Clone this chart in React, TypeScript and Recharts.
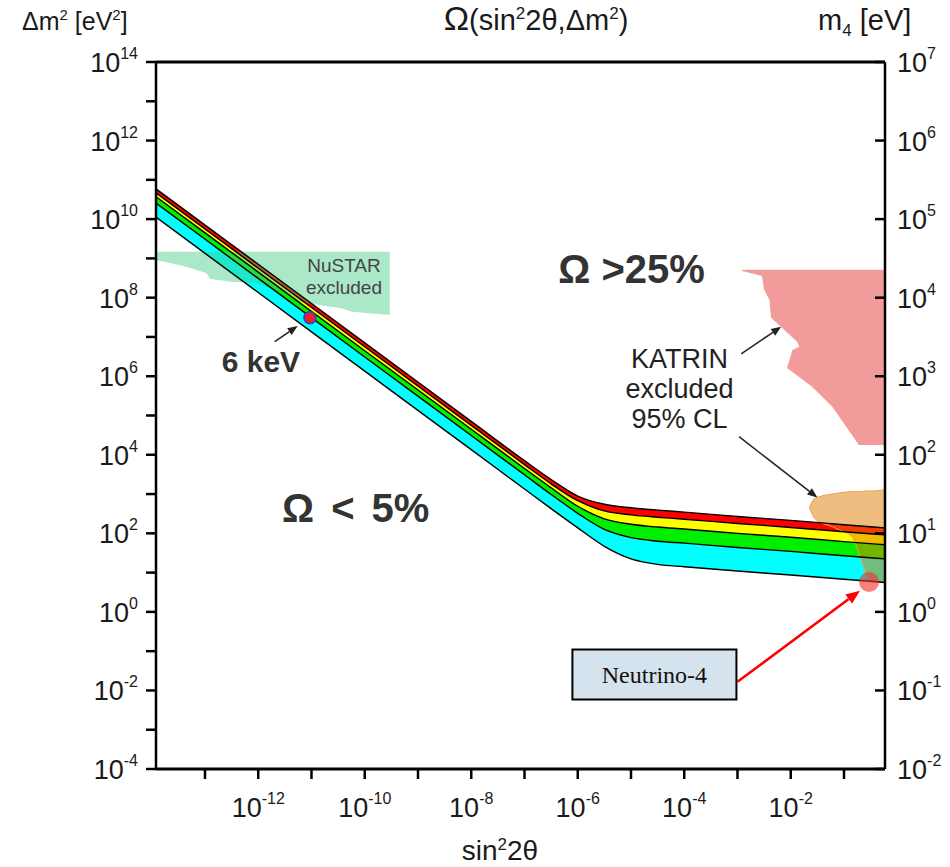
import React from "react";
import {
  ComposedChart,
  Area,
  Line,
  XAxis,
  YAxis,
  ReferenceLine,
  ReferenceDot,
  ReferenceArea,
} from "recharts";

const FONT = "'Liberation Sans', Arial, Helvetica, sans-serif";

// all values are log10 exponents
const LOG_X = [-13.92, -12, -10, -8, -7, -6.5, -6, -5.5, -5, -4.5, -4, -3, -2, -1, -0.23];
const RED_TOP = [10.77, 8.85, 6.85, 4.85, 3.85, 3.37, 2.95, 2.74, 2.65, 2.59, 2.54, 2.43, 2.33, 2.22, 2.14];
const RED_YELLOW = [10.67, 8.75, 6.75, 4.75, 3.75, 3.26, 2.83, 2.57, 2.47, 2.41, 2.36, 2.25, 2.15, 2.04, 1.96];
const YELLOW_GREEN = [10.57, 8.65, 6.65, 4.65, 3.65, 3.16, 2.69, 2.37, 2.23, 2.16, 2.11, 2.0, 1.9, 1.79, 1.71];
const GREEN_CYAN = [10.41, 8.49, 6.49, 4.49, 3.49, 2.99, 2.51, 2.1, 1.89, 1.8, 1.75, 1.64, 1.54, 1.43, 1.35];
const CYAN_BOTTOM = [10.05, 8.13, 6.13, 4.13, 3.13, 2.63, 2.14, 1.67, 1.35, 1.21, 1.15, 1.04, 0.94, 0.83, 0.75];

const NUSTAR_X = [-13.92, -13.42, -12.97, -12.91, -12.48, -12.1, -11.47, -11.22, -10.98, -10.47, -10.23, -9.53];
const NUSTAR_LOW = [8.96, 8.81, 8.63, 8.48, 8.4, 8.38, 8.12, 7.89, 7.84, 7.74, 7.64, 7.56];
const NUSTAR_TOP = 9.17;

const KATRIN_X = [-2.91, -2.54, -2.5, -2.4, -2.37, -2.16, -1.88, -1.84, -1.97, -2.07, -1.6, -1.22, -0.72, -0.23];
const KATRIN_LOW = [8.68, 8.55, 8.2, 7.94, 7.49, 7.23, 6.88, 6.75, 6.67, 6.21, 5.73, 5.22, 4.25, 4.25];
const KATRIN_TOP = 8.71;

const BLOB_X = [-1.65, -1.56, -1.47, -1.22, -1.09, -0.85, -0.68, -0.58, -0.47, -0.23];
const BLOB_TOP = [2.65, 2.88, 2.93, 3.0, 3.03, 3.06, 3.06, 3.08, 3.08, 3.11];
const BLOB_LOW = [2.65, 2.4, 2.3, 2.17, 2.09, 1.91, 1.33, 0.95, 0.77, 0.74];

const X_TICKS = [-13, -12, -11, -10, -9, -8, -7, -6, -5, -4, -3, -2, -1];
const Y_TICKS = [-4, -3, -2, -1, 0, 1, 2, 3, 4, 5, 6, 7, 8, 9, 10, 11, 12, 13, 14];
const M4_TICKS = [-2, -1, 0, 1, 2, 3, 4, 5, 6, 7];

const KEV6 = { x: -11.03, y: 7.49 };
const NEUTRINO4 = { x: -0.53, y: 0.76 };

const bandRows = LOG_X.map((x, i) => ({
  x,
  redTop: RED_TOP[i],
  redYellow: RED_YELLOW[i],
  yellowGreen: YELLOW_GREEN[i],
  greenCyan: GREEN_CYAN[i],
  cyanBottom: CYAN_BOTTOM[i],
}));
const nustarRows = NUSTAR_X.map((x, i) => ({ x, lo: NUSTAR_LOW[i], hi: NUSTAR_TOP }));
const katrinRows = KATRIN_X.map((x, i) => ({ x, lo: KATRIN_LOW[i], hi: KATRIN_TOP }));
const blobRows = BLOB_X.map((x, i) => ({ x, lo: BLOB_LOW[i], hi: BLOB_TOP[i] }));

function LeftTick(props: any) {
  const { x, y, payload } = props;
  const v = payload.value as number;
  return (
    <g>
      <line x1={x - 10} y1={y} x2={x} y2={y} stroke="#000" strokeWidth={2.5} />
      {v % 2 === 0 && (
        <text x={x - 18} y={y + 10} textAnchor="end" fontSize={27} fill="#1a1a1a" fontFamily={FONT}>
          10
          <tspan dy={-13} fontSize={16}>{v}</tspan>
        </text>
      )}
    </g>
  );
}

function RightTick(props: any) {
  const { x, y, payload } = props;
  return (
    <g>
      <line x1={x - 10} y1={y} x2={x} y2={y} stroke="#000" strokeWidth={2.5} />
      <text x={x + 12} y={y + 10} fontSize={27} fill="#1a1a1a" fontFamily={FONT}>
        10
        <tspan dy={-13} fontSize={16}>{payload.value}</tspan>
      </text>
    </g>
  );
}

function BottomTick(props: any) {
  const { x, y, payload } = props;
  const v = payload.value as number;
  return (
    <g>
      <line x1={x} y1={y} x2={x} y2={y + 10} stroke="#000" strokeWidth={2.5} />
      {v % 2 === 0 && (
        <text x={x} y={y + 48} textAnchor="middle" fontSize={27} fill="#1a1a1a" fontFamily={FONT}>
          10
          <tspan dy={-13} fontSize={16}>{v}</tspan>
        </text>
      )}
    </g>
  );
}

const arrow = (color: string, width: number, head: number) => (p: any) => {
  const { x1, y1, x2, y2 } = p;
  const a = Math.atan2(y2 - y1, x2 - x1);
  const bx = x2 - head * Math.cos(a);
  const by = y2 - head * Math.sin(a);
  const w = head * 0.4;
  const pts = `${x2},${y2} ${bx - w * Math.sin(a)},${by + w * Math.cos(a)} ${bx + w * Math.sin(a)},${by - w * Math.cos(a)}`;
  return (
    <g>
      <line x1={x1} y1={y1} x2={bx} y2={by} stroke={color} strokeWidth={width} />
      <polygon points={pts} fill={color} />
    </g>
  );
};

const textAt = (lines: string[], size: number, bold: boolean, color: string, gap: number, wordSpacing = 0) => (p: any) => (
  <text
    x={p.cx}
    y={p.cy}
    textAnchor="middle"
    fontSize={size}
    fontWeight={bold ? 700 : 400}
    fill={color}
    fontFamily={FONT}
    style={{ wordSpacing }}
  >
    {lines.map((l, i) => (
      <tspan key={i} x={p.cx} dy={i === 0 ? 0 : gap}>
        {l}
      </tspan>
    ))}
  </text>
);

export default function App() {
  return (
    <div style={{ position: "absolute", left: 0, top: 0, width: 950, height: 867, background: "#fff" }}>
      <ComposedChart width={950} height={867} margin={{ top: 62, right: 5, bottom: 38, left: 76 }}>
        <XAxis
          type="number"
          dataKey="x"
          domain={[-13.92, -0.23]}
          allowDataOverflow
          ticks={X_TICKS}
          interval={0}
          height={60}
          tickSize={0}
          tickMargin={0}
          tick={<BottomTick />}
          axisLine={{ stroke: "#000", strokeWidth: 3 }}
        />
        <YAxis
          type="number"
          domain={[-4, 14]}
          allowDataOverflow
          ticks={Y_TICKS}
          interval={0}
          width={80}
          tickSize={0}
          tickMargin={0}
          tick={<LeftTick />}
          axisLine={{ stroke: "#000", strokeWidth: 2.5 }}
        />
        <YAxis
          yAxisId="m4"
          orientation="right"
          type="number"
          domain={[-2, 7]}
          allowDataOverflow
          ticks={M4_TICKS}
          interval={0}
          width={60}
          tickSize={0}
          tickMargin={0}
          tick={<RightTick />}
          axisLine={{ stroke: "#000", strokeWidth: 2.5 }}
        />
        <ReferenceLine y={14} stroke="#000" strokeWidth={3} />

        <Area data={bandRows} type="monotone" dataKey={(d: any) => [d.cyanBottom, d.greenCyan]} fill="#00ffff" fillOpacity={1} stroke="none" isAnimationActive={false} />
        <Area data={bandRows} type="monotone" dataKey={(d: any) => [d.greenCyan, d.yellowGreen]} fill="#00ee00" fillOpacity={1} stroke="none" isAnimationActive={false} />
        <Area data={bandRows} type="monotone" dataKey={(d: any) => [d.yellowGreen, d.redYellow]} fill="#ffff00" fillOpacity={1} stroke="none" isAnimationActive={false} />
        <Area data={bandRows} type="monotone" dataKey={(d: any) => [d.redYellow, d.redTop]} fill="#ff0000" fillOpacity={1} stroke="none" isAnimationActive={false} />
        {["redTop", "redYellow", "yellowGreen", "greenCyan", "cyanBottom"].map((k) => (
          <Line key={k} data={bandRows} type="monotone" dataKey={k} stroke="#000" strokeWidth={1.4} dot={false} isAnimationActive={false} />
        ))}

        <Area data={nustarRows} type="linear" dataKey={(d: any) => [d.lo, d.hi]} fill="#43cc85" fillOpacity={0.45} stroke="none" isAnimationActive={false} />
        <Area data={katrinRows} type="linear" dataKey={(d: any) => [d.lo, d.hi]} fill="#e84848" fillOpacity={0.55} stroke="none" isAnimationActive={false} />
        <Area data={blobRows} type="monotone" dataKey={(d: any) => [d.lo, d.hi]} fill="#e07b00" fillOpacity={0.5} stroke="#f0a050" strokeWidth={1} isAnimationActive={false} />

        <ReferenceDot x={KEV6.x} y={KEV6.y} r={6} fill="#e8202a" stroke="#2040e0" strokeWidth={1.5} />
        <ReferenceDot x={NEUTRINO4.x} y={NEUTRINO4.y} r={10} fill="#f62b2b" fillOpacity={0.6} stroke="none" />

        <ReferenceArea
          x1={-6.1}
          x2={-3.02}
          y1={-2.23}
          y2={-0.96}
          fill="#d5e3ee"
          fillOpacity={1}
          stroke="#000"
          strokeWidth={2}
          label={{ value: "Neutrino-4", position: "center", fontSize: 24, fill: "#111", fontFamily: "'Liberation Serif', 'Times New Roman', serif" }}
        />

        <ReferenceLine segment={[{ x: -11.69, y: 6.88 }, { x: -11.26, y: 7.28 }]} shape={arrow("#222", 1.5, 10)} />
        <ReferenceLine segment={[{ x: -2.93, y: 6.57 }, { x: -2.18, y: 7.26 }]} shape={arrow("#222", 1.5, 10)} />
        <ReferenceLine segment={[{ x: -2.97, y: 4.46 }, { x: -1.5, y: 2.91 }]} shape={arrow("#222", 1.5, 10)} />
        <ReferenceLine segment={[{ x: -3.0, y: -1.78 }, { x: -0.7, y: 0.54 }]} shape={arrow("#ff0000", 2.5, 14)} />

        <ReferenceDot x={-10.39} y={8.66} r={0} shape={textAt(["NuSTAR", "excluded"], 19, false, "#444", 22)} />
        <ReferenceDot x={-11.95} y={6.11} r={0} shape={textAt(["6 keV"], 30, true, "#333", 0)} />
        <ReferenceDot x={-4.09} y={6.21} r={0} shape={textAt(["KATRIN", "excluded", "95% CL"], 27, false, "#222", 30)} />
        <ReferenceDot x={-4.99} y={8.38} r={0} shape={textAt(["Ω >25%"], 40, true, "#333", 0)} />
        <ReferenceDot x={-10.17} y={2.3} r={0} shape={textAt(["Ω < 5%"], 40, true, "#333", 0, 6)} />
      </ComposedChart>

      <svg width={950} height={867} style={{ position: "absolute", left: 0, top: 0, pointerEvents: "none" }}>
        <text x={22} y={30} fontSize={25} fill="#1a1a1a" fontFamily={FONT}>
          Δm<tspan dy={-10} fontSize={15}>2</tspan>
          <tspan dy={10}> [eV</tspan>
          <tspan dy={-10} fontSize={15}>2</tspan>
          <tspan dy={10}>]</tspan>
        </text>
        <text x={536} y={30} textAnchor="middle" fontSize={29} fill="#1a1a1a" fontFamily={FONT}>
          <tspan fontSize={34}>Ω</tspan>(sin<tspan dy={-11} fontSize={17}>2</tspan>
          <tspan dy={11}>2θ,Δm</tspan>
          <tspan dy={-11} fontSize={17}>2</tspan>
          <tspan dy={11}>)</tspan>
        </text>
        <text x={818} y={30} fontSize={29} fill="#1a1a1a" fontFamily={FONT}>
          m<tspan dy={6} fontSize={17}>4</tspan>
          <tspan dy={-6}> [eV]</tspan>
        </text>
        <text x={500} y={860} textAnchor="middle" fontSize={28} fill="#1a1a1a" fontFamily={FONT}>
          sin<tspan dy={-10} fontSize={17}>2</tspan>
          <tspan dy={10}>2θ</tspan>
        </text>
      </svg>
    </div>
  );
}
